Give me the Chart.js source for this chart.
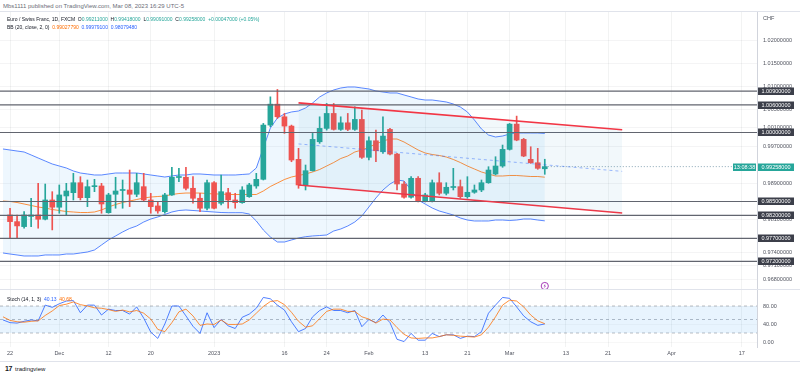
<!DOCTYPE html>
<html><head><meta charset="utf-8">
<script src="https://cdn.jsdelivr.net/npm/chart.js@4.4.1/dist/chart.umd.min.js"></script>
<style>
html,body{margin:0;padding:0;background:#fff;}
body{width:800px;height:376px;position:relative;overflow:hidden;font-family:"Liberation Sans",Arial,sans-serif;}
.t{position:absolute;white-space:nowrap;line-height:1;}
.g{color:#26a69a}.o{color:#ff6d00}.b{color:#2962ff}
.hl{position:absolute;left:0;width:800px;height:0;border-top:1px solid #e0e3eb;}
</style></head><body>
<canvas id="mainChart" width="800" height="278" style="position:absolute;left:0;top:12px"></canvas>
<canvas id="stochChart" width="800" height="71" style="position:absolute;left:0;top:290px"></canvas>
<div class="hl" style="top:11px"></div>
<div class="hl" style="top:289px"></div>
<div class="hl" style="top:361px"></div>
<div class="t" style="left:3px;top:3px;font-size:6px;color:#6a6d78">Mbs1111 published on TradingView.com, Mar 08, 2023 16:29 UTC-5</div>
<div class="t" style="left:7px;top:16.5px;font-size:5px;color:#131722">Euro / Swiss Franc, 1D, FXCM&nbsp; O<span class="g">0.99211000</span>&nbsp; H<span class="g">0.99418000</span>&nbsp; L<span class="g">0.99091000</span>&nbsp; C<span class="g">0.99258000</span>&nbsp; <span class="g">+0.00047000 (+0.05%)</span></div>
<div class="t" style="left:7px;top:24.5px;font-size:5px;color:#131722">BB (20, close, 2, 0)&nbsp; <span class="o">0.99027790</span>&nbsp; <span class="b">0.99979100</span>&nbsp; <span class="b">0.98079480</span></div>
<div class="t" style="left:763px;top:15.5px;font-size:5.5px;color:#50535e">CHF</div>
<div class="t" style="left:7px;top:297px;font-size:5px;color:#131722">Stoch (14, 1, 3)&nbsp; <span class="b">40.13</span>&nbsp; <span class="o">40.68</span></div>
<div class="t" style="left:5px;top:365px;font-size:7px;color:#131722;font-weight:bold;letter-spacing:-0.5px">17</div>
<div class="t" style="left:15px;top:365.5px;font-size:6px;color:#131722">tradingview</div>
<script>
// ---------- DATA ----------
// trading-day index: 0 = Nov 21 2022 ... 77 = Mar 08 2023
const tickLabels = ["22","Dec","12","20","2023","16","24","Feb","13","21","Mar","13","21","Apr","17"];
const tickPos    = [1, 8, 15, 21, 30, 40, 46, 52, 60, 66, 72, 80, 86, 95, 105];

const open = [null,
 0.98207,0.98062,0.97954,0.98175,0.98207,0.98114,0.98533,0.98375,0.98620,0.98691,
 0.98908,0.98583,0.98822,0.98837,0.98257,0.98657,0.98739,0.98750,0.98657,0.98822,
 0.98533,0.98403,0.98279,0.98642,0.99021,0.99026,0.98787,0.98570,0.98353,0.98908,
 0.98461,0.98691,0.98533,0.98474,0.98605,0.98837,0.98982,1.00161,1.00616,1.00341,
 1.00139,0.99416,0.98859,0.99169,0.99798,1.00089,1.00414,1.00067,1.00210,1.00067,
 1.00284,0.99460,0.99820,0.99581,1.00067,0.99531,0.98880,0.98592,0.99004,0.98496,
 0.98500,0.98908,0.98678,0.98804,0.98822,0.98605,0.98700,0.98750,0.98908,0.99097,
 0.99271,0.99633,1.00182,0.99850,0.99416,0.99342,0.99211];
const high = [null,
 0.98353,0.98207,0.98279,0.98570,0.98895,0.98880,0.98713,0.98859,0.98895,0.99112,
 0.99039,0.98967,0.98982,0.98895,0.98678,0.99026,0.98967,0.99184,0.99112,0.99112,
 0.98678,0.98496,0.98678,0.99243,0.99221,0.99243,0.99039,0.98678,0.98967,0.98930,
 0.99076,0.98787,0.98678,0.98822,0.98895,0.99112,1.00197,1.00775,1.00935,1.00414,
 1.00161,0.99655,0.99293,0.99980,1.00341,1.00631,1.00631,1.00341,1.00414,1.00558,
 1.00486,0.99907,1.00052,1.00341,1.00089,0.99546,0.98930,0.99039,0.99039,0.98678,
 0.98967,0.99125,0.98908,0.99221,0.98967,0.99039,0.98859,0.98967,0.99256,0.99473,
 0.99727,1.00197,1.00356,0.99872,0.99690,0.99655,0.99418];
const low = [null,
 0.97702,0.97702,0.97919,0.97954,0.97919,0.98099,0.97882,0.98244,0.98207,0.98533,
 0.98533,0.98388,0.98713,0.98244,0.98244,0.98353,0.98353,0.98388,0.98605,0.98496,
 0.98244,0.98244,0.98244,0.98630,0.98930,0.98750,0.98461,0.98279,0.98316,0.98340,
 0.98424,0.98353,0.98353,0.98461,0.98590,0.98787,0.98967,1.00124,1.00306,0.99980,
 0.99364,0.98787,0.98750,0.99160,0.99763,1.00052,1.00052,1.00045,1.00040,1.00045,
 0.99438,0.99401,0.99364,0.99546,0.99510,0.98750,0.98570,0.98570,0.98490,0.98490,
 0.98490,0.98642,0.98642,0.98750,0.98570,0.98570,0.98678,0.98713,0.98895,0.99076,
 0.99243,0.99618,0.99820,0.99473,0.99329,0.99199,0.99091];
const close = [null,
 0.98062,0.97969,0.98207,0.98207,0.98114,0.98533,0.98375,0.98642,0.98728,0.98908,
 0.98583,0.98822,0.98837,0.98446,0.98642,0.98728,0.98750,0.98657,0.98908,0.98533,
 0.98388,0.98294,0.98642,0.99026,0.99032,0.98787,0.98570,0.98353,0.98908,0.98353,
 0.98713,0.98533,0.98474,0.98750,0.98859,0.98982,1.00161,1.00616,1.00341,1.00139,
 0.99401,0.98859,0.99169,0.99850,1.00089,1.00414,1.00067,1.00210,1.00067,1.00284,
 0.99460,0.99820,0.99603,0.99922,0.99531,0.98880,0.98592,0.99004,0.98500,0.98642,
 0.98908,0.98678,0.98809,0.98815,0.98605,0.98700,0.98750,0.98908,0.99184,0.99271,
 0.99633,1.00182,0.99835,0.99488,0.99342,0.99221,0.99258];

const bbUpper = [
 0.99641,0.99619,0.99597,0.99576,0.99511,0.99445,0.99380,0.99315,0.99271,0.99228,
 0.99163,0.99119,0.99098,0.99076,0.99076,0.99098,0.99119,0.99119,0.99119,0.99119,
 0.99098,0.99076,0.99054,0.99032,0.99054,0.99076,0.99076,0.99098,0.99098,0.99087,
 0.99076,0.99076,0.99076,0.99076,0.99087,0.99098,0.99228,0.99663,1.00098,1.00315,
 1.00402,1.00446,1.00467,1.00533,1.00641,1.00772,1.00859,1.00924,1.00967,1.00989,
 1.00989,1.00967,1.00946,1.00902,1.00880,1.00859,1.00859,1.00815,1.00772,1.00728,
 1.00706,1.00706,1.00685,1.00663,1.00619,1.00554,1.00446,1.00271,1.00076,0.99945,
 0.99902,0.99923,0.99967,0.99989,0.99989,0.99989,0.99989,0.99979];
const bbLower = [
 0.97380,0.97358,0.97337,0.97315,0.97315,0.97315,0.97337,0.97337,0.97337,0.97358,
 0.97358,0.97380,0.97402,0.97445,0.97554,0.97663,0.97750,0.97837,0.97913,0.97967,
 0.98054,0.98119,0.98163,0.98217,0.98271,0.98304,0.98315,0.98304,0.98293,0.98282,
 0.98271,0.98260,0.98256,0.98256,0.98256,0.98228,0.98076,0.97880,0.97728,0.97619,
 0.97619,0.97663,0.97706,0.97734,0.97750,0.97760,0.97771,0.97858,0.97902,0.97967,
 0.98054,0.98184,0.98380,0.98576,0.98750,0.98880,0.98967,0.98945,0.98750,0.98532,
 0.98445,0.98358,0.98293,0.98250,0.98206,0.98141,0.98097,0.98076,0.98076,0.98076,
 0.98097,0.98097,0.98087,0.98097,0.98119,0.98119,0.98097,0.98079];
const bbBasis = [
 0.98510,0.98500,0.98478,0.98445,0.98413,0.98380,0.98358,0.98325,0.98304,0.98282,
 0.98271,0.98260,0.98260,0.98271,0.98315,0.98380,0.98434,0.98478,0.98510,0.98543,
 0.98576,0.98597,0.98608,0.98619,0.98652,0.98673,0.98684,0.98684,0.98684,0.98673,
 0.98663,0.98663,0.98652,0.98652,0.98652,0.98652,0.98652,0.98728,0.98826,0.98902,
 0.98978,0.99032,0.99065,0.99097,0.99141,0.99195,0.99271,0.99347,0.99434,0.99489,
 0.99576,0.99619,0.99684,0.99750,0.99815,0.99858,0.99858,0.99793,0.99706,0.99619,
 0.99554,0.99521,0.99500,0.99467,0.99413,0.99347,0.99271,0.99206,0.99141,0.99097,
 0.99054,0.99054,0.99065,0.99065,0.99054,0.99043,0.99043,0.99028];

const stochK = [
 49,43,42,46,49,47,82,77,85,91, 92,65,82,82,60,73,70,70,62,78,
 53,22,8,40,80,80,58,35,19,65, 32,50,36,30,55,62,75,99,96,82,
 71,45,23,30,56,70,78,70,70,65, 70,34,50,43,60,43,6,1,19,4,
 4,19,12,16,16,8,13,12,23,64, 82,99,97,78,58,45,37,40.13];
const stochD = [
 56,48,45,44,46,47,59,69,81,84, 89,83,80,76,75,72,68,71,67,70,
 64,51,28,23,43,67,73,58,37,40, 39,49,39,39,40,49,64,79,90,92,
 83,66,46,33,36,52,68,73,73,68, 68,56,51,42,51,49,32,17,9,8,
 9,9,12,16,15,13,12,11,16,33, 56,82,93,91,78,60,47,40.68];

const priceTicks = [1.020,1.015,1.010,1.005,1.001,0.997,0.989,0.981,0.974,0.971,0.968];
const levels = [1.009,1.006,1.000,0.985,0.982,0.977,0.972];
const channelIdx = [42, 88];
const channelUpper = [1.00643, 1.00060];
const channelLower = [0.98859, 0.98250];
const channelMid = [0.99751, 0.99155];
const stochBands = [80, 50, 20];
const stochTicks = [0, 40, 80];
const eventIndex = 77;
const countdown = "13:08:38";

// ---------- VIEW ----------
const X_MIN = -0.426, X_MAX = 107.16;
const Y_MIN = 0.965757, Y_MAX = 1.026191;
const S_MIN = -11.11, S_MAX = 115.56;
const UP = '#26a69a', DOWN = '#ef5350';
const FONT = '"Liberation Sans", Arial, sans-serif';
Chart.defaults.font.family = FONT;

const pts = arr => arr.map((v, i) => ({x: i, y: v}));
const candleIdx = close.map((c, i) => i).filter(i => close[i] !== null);
const candleColors = candleIdx.map(i => close[i] >= open[i] ? UP : DOWN);
const lastIdx = close.length - 1;

const fixY = w => s => { s.width = w; s.paddingTop = 0; s.paddingBottom = 0; };

const tagPlugin = {
  id: 'tags',
  afterDraw(chart) {
    const {ctx, chartArea, scales} = chart;
    const y = scales.y, x = scales.x;
    const left = chartArea.right;
    ctx.save();
    ctx.font = '5.5px ' + FONT;
    ctx.textBaseline = 'middle';
    ctx.textAlign = 'center';
    levels.forEach(l => {
      const py = Math.round(y.getPixelForValue(l));
      ctx.fillStyle = '#3c3f4a';
      ctx.fillRect(left + 1, py - 3.5, 36, 7.5);
      ctx.fillStyle = '#ffffff';
      ctx.fillText(l.toFixed(8), left + 19, py + 0.5);
    });
    const lp = close[lastIdx];
    const py = Math.round(y.getPixelForValue(lp));
    ctx.fillStyle = UP;
    ctx.fillRect(left + 1, py - 3.5, 36, 7.5);
    ctx.fillRect(left - 24, py - 3.5, 23, 7.5);
    ctx.fillStyle = '#fff';
    ctx.fillText(lp.toFixed(8), left + 19, py + 0.5);
    ctx.fillText(countdown, left - 12.5, py + 0.5);
    // event marker
    const ex = x.getPixelForValue(eventIndex), ey = chartArea.bottom - 4;
    ctx.beginPath(); ctx.arc(ex, ey, 3.6, 0, Math.PI * 2);
    ctx.fillStyle = '#fff'; ctx.fill();
    ctx.strokeStyle = '#9c27b0'; ctx.lineWidth = 0.9; ctx.stroke();
    ctx.beginPath();
    ctx.moveTo(ex + 0.7, ey - 2.4); ctx.lineTo(ex - 1.2, ey + 0.3); ctx.lineTo(ex + 0.1, ey + 0.3);
    ctx.lineTo(ex - 0.7, ey + 2.4); ctx.lineTo(ex + 1.2, ey - 0.3); ctx.lineTo(ex - 0.1, ey - 0.3);
    ctx.closePath(); ctx.fillStyle = '#9c27b0'; ctx.fill();
    ctx.restore();
  }
};

const lineDs = (data, color, extra) => Object.assign({type: 'line', data, borderColor: color, borderWidth: 1, pointRadius: 0, fill: false, tension: 0}, extra || {});

new Chart(document.getElementById('mainChart'), {
  type: 'bar',
  data: {
    datasets: [
      lineDs(pts(bbUpper), 'rgba(41,98,255,0.85)', {borderWidth: 0.9, fill: '+1', backgroundColor: 'rgba(33,150,243,0.08)', order: 10}),
      lineDs(pts(bbLower), 'rgba(41,98,255,0.85)', {borderWidth: 0.9, order: 9}),
      lineDs(pts(bbBasis), 'rgba(255,109,0,0.85)', {borderWidth: 0.9, order: 8}),
      {type: 'bar', data: candleIdx.map(i => ({x: i, y: [low[i], high[i]]})), backgroundColor: candleColors,
       barThickness: 1, grouped: false, borderWidth: 0, order: 4},
      {type: 'bar', data: candleIdx.map(i => ({x: i, y: [open[i], close[i]]})), backgroundColor: candleColors,
       barThickness: 5, minBarLength: 1, grouped: false, borderWidth: 0, order: 3},
      ...levels.map(l => lineDs([{x: X_MIN, y: l}, {x: X_MAX, y: l}], '#62656f', {borderWidth: 1.2, order: 2})),
      lineDs([{x: lastIdx, y: close[lastIdx]}, {x: X_MAX, y: close[lastIdx]}], 'rgba(90,130,150,0.7)', {borderDash: [1, 2], order: 2}),
      lineDs(channelIdx.map((v, k) => ({x: v, y: channelUpper[k]})), '#f23645', {borderWidth: 1.6, fill: '+1', backgroundColor: 'rgba(70,160,200,0.07)', order: 1}),
      lineDs(channelIdx.map((v, k) => ({x: v, y: channelLower[k]})), '#f23645', {borderWidth: 1.6, order: 1}),
      lineDs(channelIdx.map((v, k) => ({x: v, y: channelMid[k]})), 'rgba(41,98,255,0.45)', {borderDash: [3, 3], order: 1})
    ]
  },
  options: {
    responsive: false, animation: false, devicePixelRatio: 1, events: [],
    layout: {padding: 0},
    plugins: {legend: {display: false}, tooltip: {enabled: false}},
    scales: {
      x: {type: 'linear', min: X_MIN, max: X_MAX, offset: false,
          grid: {color: 'rgba(42,46,57,0.06)', drawTicks: false, offset: false},
          border: {display: false}, ticks: {display: false},
          afterBuildTicks: s => { s.ticks = tickPos.map(v => ({value: v})); },
          afterFit: s => { s.height = 0; s.paddingLeft = 0; s.paddingRight = 0; }},
      y: {type: 'linear', position: 'right', min: Y_MIN, max: Y_MAX,
          grid: {color: 'rgba(42,46,57,0.05)', drawTicks: false},
          border: {display: true, color: '#d1d4dc'},
          ticks: {padding: 6, color: '#50535e', font: {size: 5.5}, callback: v => v.toFixed(8)},
          afterBuildTicks: s => { s.ticks = priceTicks.map(v => ({value: v})); },
          afterFit: fixY(43)}
    }
  },
  plugins: [tagPlugin]
});

new Chart(document.getElementById('stochChart'), {
  type: 'line',
  data: {
    datasets: [
      ...stochBands.map((b, k) => lineDs([{x: X_MIN, y: b}, {x: X_MAX, y: b}], 'rgba(120,123,134,0.5)',
          k === 0 ? {borderDash: [3, 3], fill: '+2', backgroundColor: 'rgba(33,150,243,0.1)', order: 5} : {borderDash: [3, 3], order: 5})),
      lineDs(pts(stochK), 'rgba(41,98,255,0.9)', {borderWidth: 0.9, order: 2}),
      lineDs(pts(stochD), 'rgba(255,109,0,0.85)', {borderWidth: 0.9, order: 1})
    ]
  },
  options: {
    responsive: false, animation: false, devicePixelRatio: 1, events: [],
    layout: {padding: 0},
    plugins: {legend: {display: false}, tooltip: {enabled: false}},
    scales: {
      x: {type: 'linear', min: X_MIN, max: X_MAX, offset: false,
          grid: {color: 'rgba(42,46,57,0.06)', drawTicks: false, offset: false},
          border: {display: false},
          ticks: {padding: 3, color: '#50535e', font: {size: 5.5}, autoSkip: false, maxRotation: 0,
                  callback: v => { const k = tickPos.indexOf(v); return k >= 0 ? tickLabels[k] : ''; }},
          afterBuildTicks: s => { s.ticks = tickPos.map(v => ({value: v})); },
          afterFit: s => { s.height = 14; s.paddingLeft = 0; s.paddingRight = 0; }},
      y: {type: 'linear', position: 'right', min: S_MIN, max: S_MAX,
          grid: {color: 'rgba(42,46,57,0.04)', drawTicks: false},
          border: {display: true, color: '#d1d4dc'},
          ticks: {padding: 6, color: '#50535e', font: {size: 5.5}, callback: v => v.toFixed(2)},
          afterBuildTicks: s => { s.ticks = stochTicks.map(v => ({value: v})); },
          afterFit: fixY(43)}
    }
  }
});
</script>
</body></html>
